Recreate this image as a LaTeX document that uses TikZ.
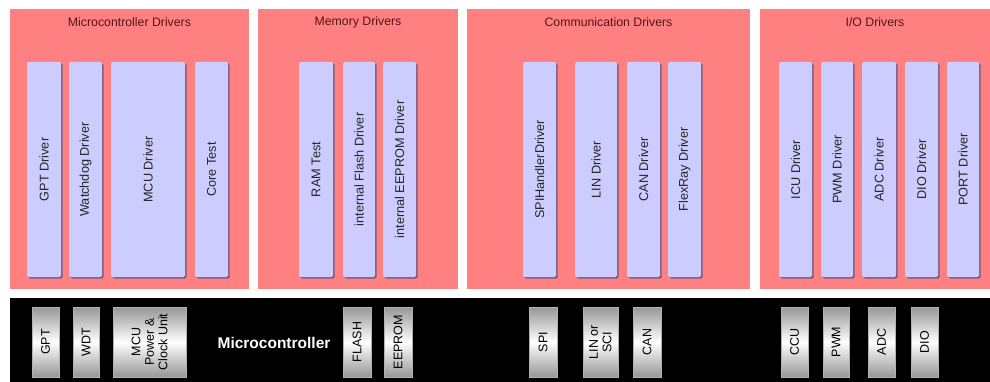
\documentclass[tikz,border=0pt]{standalone}
\usepackage{fontspec}
\setmainfont{Liberation Sans}
\usetikzlibrary{shadows}

\definecolor{panelred}{RGB}{255,128,128}
\definecolor{drvfill}{RGB}{204,204,255}
\definecolor{titlecol}{RGB}{85,20,25}
\definecolor{shadowcol}{RGB}{105,85,135}
\definecolor{hwgray}{RGB}{150,150,150}

% rectangle node from its edges: style, name, left, right, top, bottom
\newcommand\edgebox[6]{%
  \node[#1, minimum width={(#4-#3)*1pt}, minimum height={(#6-#5)*1pt}]
    (#2) at ({(#3+#4)/2},{(#5+#6)/2}) {};}

\begin{document}
\begin{tikzpicture}[x=1pt,y=-1pt,
  every node/.style={inner sep=0pt, outer sep=0pt},
  panel/.style={rectangle, fill=panelred},
  paneltitle/.style={font=\fontsize{12.3}{14}\selectfont, text=titlecol},
  drvbox/.style={rectangle, fill=drvfill, rounded corners=1.5pt,
    drop shadow={shadow xshift=1.6pt, shadow yshift=-1.6pt, fill=shadowcol, opacity=0.9}},
  drvtext/.style={rotate=90, font=\fontsize{12.7}{14}\selectfont, text=black!85},
  hwbar/.style={rectangle, fill=black},
  hwbox/.style={rectangle, draw=gray!60, line width=0.4pt,
    top color=hwgray, bottom color=hwgray, middle color=white},
  hwtext/.style={rotate=90, align=center, font=\fontsize{12.5}{13.5}\selectfont, text=black},
  mctext/.style={font=\bfseries\fontsize{15.5}{18}\selectfont, text=white}]

\useasboundingbox (0,0) rectangle (990,382);

% driver groups
\edgebox{panel}{pmcu}{10}{249}{9}{289}
\edgebox{panel}{pmem}{258}{458}{9}{289}
\edgebox{panel}{pcom}{467}{750}{9}{289}
\edgebox{panel}{pio}{760}{990}{9}{289}

\node[paneltitle] (tmcu) at ([yshift=-13pt]pmcu.north) {Microcontroller Drivers};
\node[paneltitle] (tmem) at ([yshift=-13pt]pmem.north) {Memory Drivers};
\node[paneltitle] (tcom) at ([yshift=-13pt]pcom.north) {Communication Drivers};
\node[paneltitle] (tio)  at ([yshift=-13pt]pio.north)  {I/O Drivers};

% microcontroller drivers
\edgebox{drvbox}{gpt}{27}{61}{62}{277}
\edgebox{drvbox}{wdg}{69}{102}{62}{277}
\edgebox{drvbox}{mcu}{111}{185}{62}{277}
\edgebox{drvbox}{core}{195}{228}{62}{277}
\node[drvtext] (gptt)  at (gpt)  {GPT Driver};
\node[drvtext] (wdgt)  at (wdg)  {Watchdog Driver};
\node[drvtext] (mcut)  at (mcu)  {MCU Driver};
\node[drvtext] (coret) at (core) {Core Test};

% memory drivers
\edgebox{drvbox}{ram}{299}{333}{62}{277}
\edgebox{drvbox}{fls}{343}{375}{62}{277}
\edgebox{drvbox}{eep}{383}{416}{62}{277}
\node[drvtext] (ramt) at (ram) {RAM Test};
\node[drvtext] (flst) at (fls) {internal Flash Driver};
\node[drvtext] (eept) at (eep) {internal EEPROM Driver};

% communication drivers
\edgebox{drvbox}{spi}{523}{556}{62}{277}
\edgebox{drvbox}{lin}{575}{617}{62}{277}
\edgebox{drvbox}{can}{627}{660}{62}{277}
\edgebox{drvbox}{frd}{668}{701}{62}{277}
\node[drvtext] (spit) at (spi) {SPIHandlerDriver};
\node[drvtext] (lint) at (lin) {LIN Driver};
\node[drvtext] (cant) at (can) {CAN Driver};
\node[drvtext] (frdt) at (frd) {FlexRay Driver};

% I/O drivers
\edgebox{drvbox}{icu}{779}{812}{62}{277}
\edgebox{drvbox}{pwm}{821}{853}{62}{277}
\edgebox{drvbox}{adc}{862}{896}{62}{277}
\edgebox{drvbox}{dio}{905}{938}{62}{277}
\edgebox{drvbox}{prt}{947}{979}{62}{277}
\node[drvtext] (icut) at (icu) {ICU Driver};
\node[drvtext] (pwmt) at (pwm) {PWM Driver};
\node[drvtext] (adct) at (adc) {ADC Driver};
\node[drvtext] (diot) at (dio) {DIO Driver};
\node[drvtext] (prtt) at (prt) {PORT Driver};

% microcontroller hardware
\edgebox{hwbar}{hw}{10}{990}{298}{382}
\node[mctext] (mclabel) at (274,343) {Microcontroller};

\edgebox{hwbox}{hgpt}{32}{59}{307}{377}
\edgebox{hwbox}{hwdt}{73}{99}{307}{377}
\edgebox{hwbox}{hmcu}{113}{186}{307}{377}
\edgebox{hwbox}{hfls}{343}{371}{307}{377}
\edgebox{hwbox}{heep}{384}{412}{307}{377}
\edgebox{hwbox}{hspi}{529}{557}{307}{377}
\edgebox{hwbox}{hlin}{583}{618}{307}{377}
\edgebox{hwbox}{hcan}{633}{661}{307}{377}
\edgebox{hwbox}{hccu}{781}{808}{307}{377}
\edgebox{hwbox}{hpwm}{823}{849}{307}{377}
\edgebox{hwbox}{hadc}{868}{895}{307}{377}
\edgebox{hwbox}{hdio}{911}{938}{307}{377}

\node[hwtext] (hgptt) at (hgpt) {GPT};
\node[hwtext] (hwdtt) at (hwdt) {WDT};
\node[hwtext] (hmcut) at (hmcu) {MCU\\Power \&\\Clock Unit};
\node[hwtext] (hflst) at (hfls) {FLASH};
\node[hwtext] (heept) at (heep) {EEPROM};
\node[hwtext] (hspit) at (hspi) {SPI};
\node[hwtext] (hlint) at (hlin) {LIN or\\SCI};
\node[hwtext] (hcant) at (hcan) {CAN};
\node[hwtext] (hccut) at (hccu) {CCU};
\node[hwtext] (hpwmt) at (hpwm) {PWM};
\node[hwtext] (hadct) at (hadc) {ADC};
\node[hwtext] (hdiot) at (hdio) {DIO};

\end{tikzpicture}
\end{document}
